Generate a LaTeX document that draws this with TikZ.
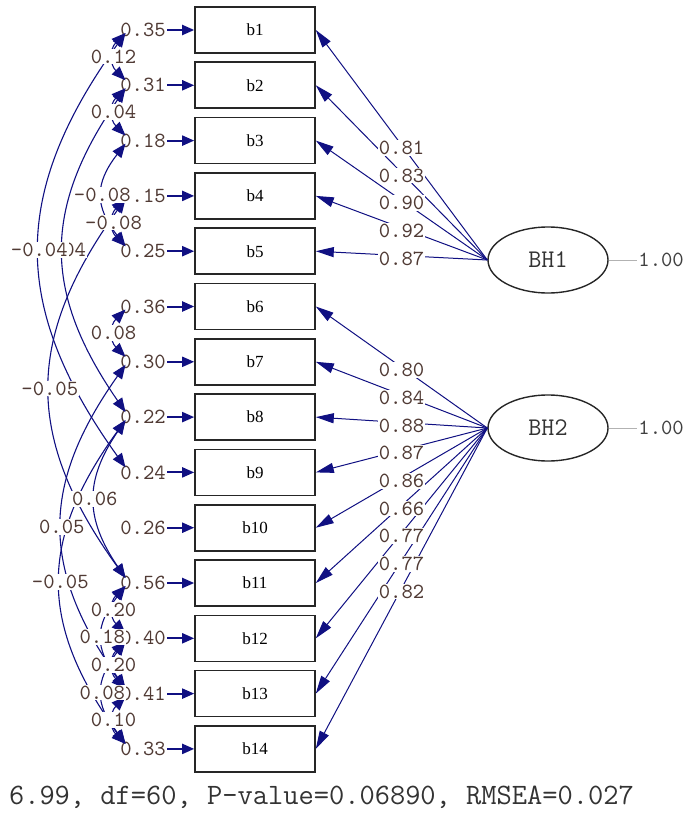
\documentclass[tikz,border=0pt]{standalone}
\usepackage{fontspec}
\setmainfont{Liberation Serif}
\setmonofont{Latin Modern Mono}
\usepackage{xcolor}
\usepackage{tikz}
\usetikzlibrary{positioning,shapes.geometric,arrows.meta}

\definecolor{pathblue}{RGB}{16,16,130}
\definecolor{numcol}{RGB}{80,58,52}

\tikzset{
  obs/.style={draw=black!85, line width=0.8pt, minimum width=60pt, minimum height=23pt, inner sep=0pt, font=\rmfamily\fontsize{8.5}{8.5}\selectfont},
  lat/.style={ellipse, draw=black!85, line width=0.7pt, minimum width=60pt, minimum height=33pt, inner sep=0pt, font=\ttfamily\fontsize{12.7}{12.7}\selectfont, text=black!80},
  num/.style={font=\ttfamily\fontsize{10.8}{10.8}\selectfont, text=numcol, inner sep=0.5pt},
  numbg/.style={num, fill=white},
  errarr/.style={pathblue, line width=1pt, -{Triangle[length=6pt,width=5pt]}},
  loadarr/.style={pathblue, line width=0.5pt, -{Triangle[length=9pt,width=5pt]}},
  covarr/.style={pathblue, line width=0.55pt, {Triangle[length=7pt,width=5.5pt]}-{Triangle[length=7pt,width=5.5pt]}},
}

\begin{document}
\begin{tikzpicture}[x=0.5pt,y=-0.5pt]
\useasboundingbox (0,0) rectangle (686,813);

\foreach \i/\v in {1/0.35,2/0.31,3/0.18,4/0.15,5/0.25,6/0.36,7/0.30,8/0.22,9/0.24,10/0.26,11/0.56,12/0.40,13/0.41,14/0.33} {
  \node[obs] (b\i) at (255,{30+55.3*(\i-1)}) {b\i};
  \node[num] (e\i) at (143,{30+55.3*(\i-1)}) {\v};
  \draw[errarr] (e\i) -- (b\i);
  \coordinate (d\i) at ([xshift=3.3pt,yshift=-1.5pt]e\i.west);
  \coordinate (u\i) at ([xshift=3.3pt,yshift=2.5pt]e\i.west);
}

\node[lat] (BH1) at (548,260) {BH1};
\node[lat] (BH2) at (548,428) {BH2};
\node[num, text=black!75, anchor=west] (v1) at (637,260) {1.00};
\node[num, text=black!75, anchor=west] (v2) at (637,428) {1.00};
\draw[gray!60, line width=0.5pt] (BH1) -- (v1);
\draw[gray!60, line width=0.5pt] (BH2) -- (v2);

\foreach \i in {1,...,5}
  \draw[loadarr] (BH1.west) -- coordinate[pos=0.5] (m\i) (b\i.east);
\foreach \i in {6,...,14}
  \draw[loadarr] (BH2.west) -- coordinate[pos=0.5] (m\i) (b\i.east);
\foreach \i/\v in {1/0.81,2/0.83,3/0.90,4/0.92,5/0.87,6/0.80,7/0.84,8/0.88,9/0.87,10/0.86,11/0.66,12/0.77,13/0.77,14/0.82}
  \node[numbg] (l\i) at ([yshift=-1.5pt]m\i) {\v};

\draw[covarr] (d1) .. controls ([shift={(-16,16)}]d1) and ([shift={(-16,-16)}]u2) .. (u2) coordinate[midway] (c1);
\draw[covarr] (d2) .. controls ([shift={(-16,16)}]d2) and ([shift={(-16,-16)}]u3) .. (u3) coordinate[midway] (c2);
\draw[covarr] (d3) .. controls ([shift={(-31,40)}]d3) and ([shift={(-31,-40)}]u5) .. (u5) coordinate[midway] (c3);
\draw[covarr] (d4) .. controls ([shift={(-16,16)}]d4) and ([shift={(-16,-16)}]u5) .. (u5) coordinate[midway] (c4);
\draw[covarr] (d1) .. controls ([shift={(-115,160)}]d1) and ([shift={(-115,-160)}]u9) .. (u9) coordinate[midway] (c5);
\draw[covarr] (d2) .. controls ([shift={(-83,120)}]d2) and ([shift={(-83,-120)}]u8) .. (u8) coordinate[midway] (c6);
\draw[covarr] (d4) .. controls ([shift={(-101,140)}]d4) and ([shift={(-101,-140)}]u11) .. (u11) coordinate[midway] (c7);
\draw[covarr] (d6) .. controls ([shift={(-16,16)}]d6) and ([shift={(-16,-16)}]u7) .. (u7) coordinate[midway] (c8);
\draw[covarr] (d7) .. controls ([shift={(-85,120)}]d7) and ([shift={(-85,-120)}]u13) .. (u13) coordinate[midway] (c9);
\draw[covarr] (d8) .. controls ([shift={(-41,60)}]d8) and ([shift={(-41,-60)}]u11) .. (u11) coordinate[midway] (c10);
\draw[covarr] (d8) .. controls ([shift={(-87,120)}]d8) and ([shift={(-87,-120)}]u14) .. (u14) coordinate[midway] (c11);
\draw[covarr] (d11) .. controls ([shift={(-16,16)}]d11) and ([shift={(-16,-16)}]u12) .. (u12) coordinate[midway] (c12);
\draw[covarr] (d11) .. controls ([shift={(-31,40)}]d11) and ([shift={(-31,-40)}]u13) .. (u13) coordinate[midway] (c13);
\draw[covarr] (d12) .. controls ([shift={(-16,16)}]d12) and ([shift={(-16,-16)}]u13) .. (u13) coordinate[midway] (c14);
\draw[covarr] (d12) .. controls ([shift={(-31,40)}]d12) and ([shift={(-31,-40)}]u14) .. (u14) coordinate[midway] (c15);
\draw[covarr] (d13) .. controls ([shift={(-16,16)}]d13) and ([shift={(-16,-16)}]u14) .. (u14) coordinate[midway] (c16);

\foreach \c/\v in {c6/0.04,c5/-0.04,c1/0.12,c2/0.04,c3/-0.08,c4/-0.08,c7/-0.05,c8/0.08,c9/0.05,c10/0.06,c11/-0.05,c12/0.20,c13/0.18,c14/0.20,c15/0.08,c16/0.10}
  \node[numbg] (t\c) at (\c) {\v};

\node[font=\ttfamily\fontsize{14.8}{14.8}\selectfont, text=black!80, anchor=west] (fit) at (2,797) {6.99, df=60, P-value=0.06890, RMSEA=0.027};
\end{tikzpicture}
\end{document}
